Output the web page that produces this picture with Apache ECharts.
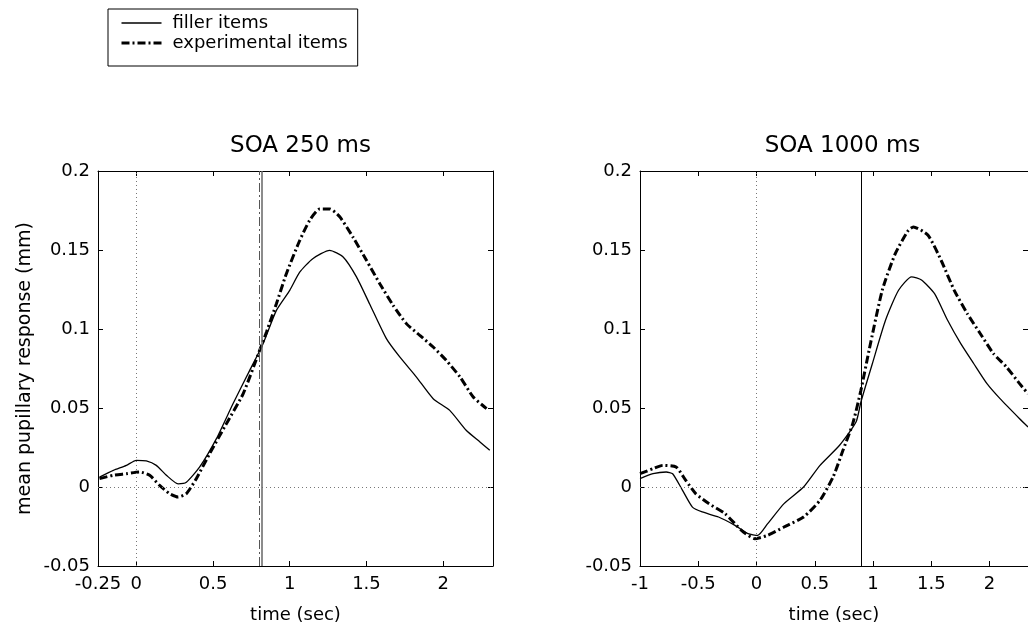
<!DOCTYPE html>
<html>
<head>
<meta charset="utf-8">
<script src="https://cdn.jsdelivr.net/npm/echarts@6/dist/echarts.min.js"></script>
<style>
  html, body { margin: 0; padding: 0; background: #fff; }
  #chart { width: 1028px; height: 630px; }
</style>
</head>
<body>
<div id="chart"></div>
<script>
// [time (sec), mean pupillary response (mm)]
var leftFiller = [[-0.24,0.0063],[-0.15,0.0105],[-0.065,0.0137],[0,0.0169],[0.065,0.0165],[0.13,0.0137],[0.196,0.0074],[0.272,0.002],[0.326,0.003],[0.413,0.0127],[0.522,0.0306],[0.63,0.0527],[0.739,0.0738],[0.826,0.0907],[0.913,0.1118],[1.0,0.1245],[1.065,0.136],[1.15,0.1445],[1.26,0.1498],[1.348,0.1456],[1.435,0.133],[1.52,0.116],[1.63,0.0939],[1.717,0.0823],[1.826,0.0696],[1.935,0.0559],[2.043,0.0485],[2.15,0.0359],[2.24,0.0285],[2.304,0.0232]];
var leftExp = [[-0.24,0.0053],[-0.152,0.0074],[-0.065,0.0084],[0.022,0.0095],[0.087,0.0074],[0.152,0.001],[0.217,-0.0042],[0.272,-0.0063],[0.326,-0.0042],[0.391,0.0053],[0.478,0.0211],[0.587,0.0401],[0.696,0.059],[0.804,0.0865],[0.848,0.098],[0.913,0.116],[0.978,0.135],[1.065,0.156],[1.13,0.1688],[1.196,0.176],[1.26,0.176],[1.326,0.171],[1.413,0.158],[1.5,0.1435],[1.587,0.1287],[1.674,0.115],[1.76,0.1034],[1.848,0.096],[1.935,0.0886],[2.02,0.0802],[2.11,0.0696],[2.196,0.057],[2.283,0.0496]];
var rightFiller = [[-1.0,0.0053],[-0.888,0.0084],[-0.775,0.0095],[-0.72,0.0084],[-0.635,-0.0021],[-0.55,-0.0127],[-0.466,-0.0158],[-0.326,-0.019],[-0.185,-0.0243],[-0.073,-0.0295],[0.011,-0.0306],[0.096,-0.0232],[0.236,-0.0105],[0.404,0],[0.545,0.0137],[0.713,0.0264],[0.854,0.0411],[0.896,0.0538],[0.994,0.078],[1.107,0.1055],[1.219,0.1245],[1.331,0.133],[1.416,0.131],[1.528,0.1224],[1.64,0.1055],[1.753,0.0907],[1.865,0.078],[1.978,0.0654],[2.09,0.0559],[2.258,0.0432],[2.33,0.038]];
var rightExp = [[-1.0,0.0084],[-0.888,0.0116],[-0.803,0.0137],[-0.69,0.0127],[-0.607,0.0042],[-0.522,-0.0042],[-0.41,-0.0105],[-0.27,-0.0169],[-0.129,-0.0274],[-0.017,-0.0327],[0.096,-0.0306],[0.236,-0.0253],[0.404,-0.019],[0.545,-0.0084],[0.657,0.0063],[0.742,0.0232],[0.826,0.0401],[0.896,0.0612],[0.966,0.0865],[1.079,0.1245],[1.191,0.1477],[1.303,0.1624],[1.346,0.1646],[1.472,0.1593],[1.584,0.1435],[1.697,0.1245],[1.809,0.1097],[1.921,0.097],[2.034,0.0844],[2.146,0.0759],[2.258,0.0654],[2.33,0.059]];

var titles = ["SOA 250 ms", "SOA 1000 ms"];
var yTicks = [-0.05, 0, 0.05, 0.1, 0.15, 0.2];
var leftXLabels = [-0.25, 0, 0.5, 1, 1.5, 2];
var leftXTicks = [0, 0.5, 1, 1.5, 2];
var rightXLabels = [-1, -0.5, 0, 0.5, 1, 1.5, 2];
var rightXTicks = [-0.5, 0, 0.5, 1, 1.5, 2];
var leftOnsets = [0.80, 0.82];   // dash-dot, solid
var rightOnset = 0.9;

var font = "DejaVu Sans";
var fmt = function (v) { return String(Math.round(v * 100) / 100); };

function xAxes(grid, min, max, labels, ticks) {
  var base = {
    type: "value", gridIndex: grid, min: min, max: max,
    axisLine: { onZero: false, lineStyle: { color: "#000", width: 1 } },
    axisTick: { inside: true, length: 5, customValues: ticks, lineStyle: { color: "#000" } },
    splitLine: { show: false }
  };
  var bottom = Object.assign({}, base, {
    position: "bottom",
    axisLabel: { customValues: labels, formatter: fmt, color: "#000", fontSize: 18, fontFamily: font, margin: 9 },
    name: "time (sec)", nameLocation: "middle", nameGap: 40,
    nameTextStyle: { color: "#000", fontSize: 18, fontFamily: font }
  });
  var top = Object.assign({}, base, { position: "top", axisLabel: { show: false } });
  return [bottom, top];
}

function yAxes(grid, withName) {
  var base = {
    type: "value", gridIndex: grid, min: -0.05, max: 0.2,
    axisLine: { onZero: false, lineStyle: { color: "#000", width: 1 } },
    axisTick: { inside: true, length: 5, customValues: yTicks, lineStyle: { color: "#000" } },
    splitLine: { show: false }
  };
  var left = Object.assign({}, base, {
    position: "left",
    axisLabel: { customValues: yTicks, formatter: fmt, color: "#000", fontSize: 18, fontFamily: font, margin: 8 }
  });
  if (withName) {
    left.name = "mean pupillary response (mm)";
    left.nameLocation = "middle";
    left.nameGap = 63;
    left.nameTextStyle = { color: "#000", fontSize: 19, fontFamily: font };
  }
  var right = Object.assign({}, base, { position: "right", axisLabel: { show: false } });
  return [left, right];
}

var dotted = { color: "#777", type: [1, 3], width: 1 };
var noEnds = ["none", "none"];
var noMarker = { color: "rgba(0,0,0,0)", borderWidth: 0, opacity: 0 };

var chart = echarts.init(document.getElementById("chart"));
chart.setOption({
  animation: false,
  backgroundColor: "#fff",
  title: [
    { text: titles[0], left: 295.5, top: 130, textAlign: "center",
      textStyle: { fontSize: 23, fontWeight: "normal", color: "#000", fontFamily: font } },
    { text: titles[1], left: 837.5, top: 130, textAlign: "center",
      textStyle: { fontSize: 23, fontWeight: "normal", color: "#000", fontFamily: font } }
  ],
  legend: {
    orient: "vertical", left: 108, top: 9,
    borderColor: "#000", borderWidth: 1, borderRadius: 0,
    padding: [4, 10, 13, 12],
    itemWidth: 40, itemHeight: 20, itemGap: 0,
    itemStyle: noMarker,
    textStyle: { color: "#000", fontSize: 18, fontFamily: font, lineHeight: 20, padding: [0, 0, 0, 6] },
    data: [
      { name: "filler items", lineStyle: { width: 1.5 }, itemStyle: noMarker },
      { name: "experimental items", lineStyle: { width: 3 }, itemStyle: noMarker }
    ]
  },
  grid: [
    { left: 98, top: 171, width: 395, height: 395, containLabel: false },
    { left: 640, top: 171, width: 395, height: 395, containLabel: false }
  ],
  xAxis: xAxes(0, -0.25, 2.325, leftXLabels, leftXTicks)
    .concat(xAxes(1, -1, 2.33, rightXLabels, rightXTicks)),
  yAxis: yAxes(0, true).concat(yAxes(1, false)),
  series: [
    {
      name: "filler items", type: "line", xAxisIndex: 0, yAxisIndex: 0,
      data: leftFiller, symbol: "none", smooth: 0.2,
      lineStyle: { color: "#000", width: 1.3 }, itemStyle: { color: "#000" },
      markLine: {
        silent: true, symbol: noEnds, label: { show: false },
        data: [
          { xAxis: 0, lineStyle: dotted },
          { yAxis: 0, lineStyle: dotted },
          { xAxis: leftOnsets[0], lineStyle: { color: "#555", type: [9, 3, 2, 3], width: 1 } },
          { xAxis: leftOnsets[1], lineStyle: { color: "#666", type: "solid", width: 1.5 } }
        ]
      }
    },
    {
      name: "experimental items", type: "line", xAxisIndex: 0, yAxisIndex: 0,
      data: leftExp, symbol: "none", smooth: 0.2,
      lineStyle: { color: "#000", width: 3, type: [8, 3, 2, 3] }, itemStyle: { color: "#000" }
    },
    {
      name: "filler items", type: "line", xAxisIndex: 2, yAxisIndex: 2,
      data: rightFiller, symbol: "none", smooth: 0.2,
      lineStyle: { color: "#000", width: 1.3 }, itemStyle: { color: "#000" },
      markLine: {
        silent: true, symbol: noEnds, label: { show: false },
        data: [
          { xAxis: 0, lineStyle: dotted },
          { yAxis: 0, lineStyle: dotted },
          { xAxis: rightOnset, lineStyle: { color: "#000", type: "solid", width: 1 } }
        ]
      }
    },
    {
      name: "experimental items", type: "line", xAxisIndex: 2, yAxisIndex: 2,
      data: rightExp, symbol: "none", smooth: 0.2,
      lineStyle: { color: "#000", width: 3, type: [8, 3, 2, 3] }, itemStyle: { color: "#000" }
    }
  ]
});
</script>
</body>
</html>
